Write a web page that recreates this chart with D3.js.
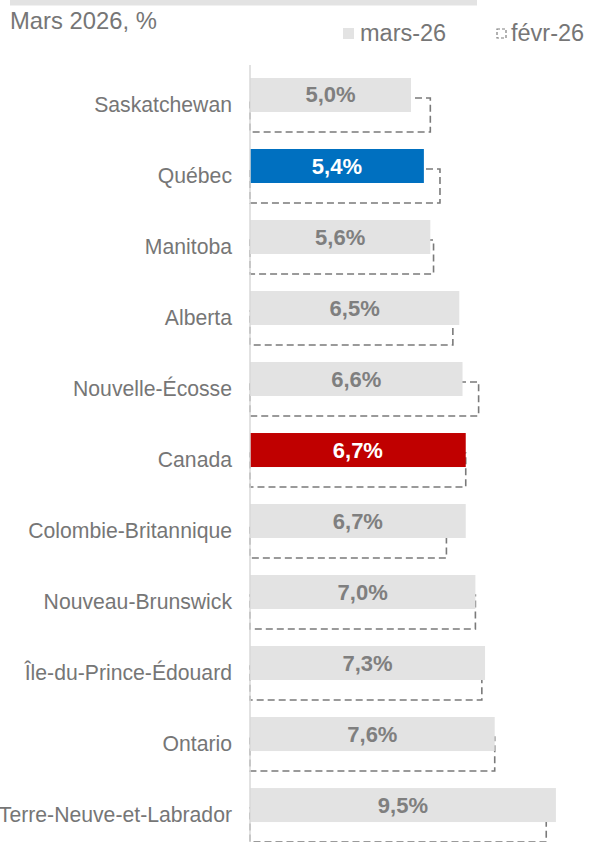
<!DOCTYPE html>
<html>
<head>
<meta charset="utf-8">
<script src="https://cdn.jsdelivr.net/npm/d3@7"></script>
<style>
  body { margin: 0; background: #fff; }
  svg { display: block; font-family: "Liberation Sans", Arial, sans-serif; }
</style>
</head>
<body>
<svg id="chart"></svg>
<script>
const provinces = ["Saskatchewan", "Québec", "Manitoba", "Alberta", "Nouvelle-Écosse", "Canada",
  "Colombie-Britannique", "Nouveau-Brunswick", "Île-du-Prince-Édouard", "Ontario", "Terre-Neuve-et-Labrador"];
const mars26 = [5.0, 5.4, 5.6, 6.5, 6.6, 6.7, 6.7, 7.0, 7.3, 7.6, 9.5];
const fevr26 = [5.6, 5.9, 5.7, 6.3, 7.1, 6.7, 6.1, 7.0, 7.2, 7.6, 9.2];
const seriesNames = ["mars-26", "févr-26"];
const highlight = { "Québec": "#0070c0", "Canada": "#c00000" };
const subtitle = "Mars 2026, %";

const width = 591; // pixels
const height = 842; // pixels

const svg = d3.select("#chart")
  .attr("width", width)
  .attr("height", height);

const rows = provinces.map((p, i) => ({ name: p, mars: mars26[i], fevr: fevr26[i] }));

const x = d3.scaleLinear([0, 10], [250, 572]);
const y = d3.scaleBand(provinces, [78, 842]).paddingInner(0.24).paddingOuter(0);
const barH = y.bandwidth() * 0.63;
const shift = y.bandwidth() - barH;
const fmt = v => d3.format(".1f")(v).replace(".", ",") + "%";

// cut title band at the top
svg.append("rect")
  .attr("x", 10).attr("y", 0)
  .attr("width", 467).attr("height", 5.5)
  .attr("fill", "#e3e3e3");

svg.append("text")
  .attr("x", 10).attr("y", 29)
  .attr("font-size", 23.8)
  .attr("fill", "#767676")
  .text(subtitle);

// legend
const legend = svg.append("g").attr("font-size", 23.5).attr("fill", "#767676");
legend.append("rect")
  .attr("x", 343).attr("y", 28).attr("width", 11).attr("height", 11)
  .attr("fill", "#e3e3e3");
legend.append("text").attr("x", 360).attr("y", 41).text(seriesNames[0]);
legend.append("rect")
  .attr("x", 497).attr("y", 29).attr("width", 9).attr("height", 9)
  .attr("fill", "none")
  .attr("stroke", "#7f7f7f")
  .attr("stroke-width", 1.2)
  .attr("stroke-dasharray", "3,2");
legend.append("text").attr("x", 511).attr("y", 41).text(seriesNames[1]);

// previous month, dashed outlines (drawn under the bars)
svg.append("g")
  .selectAll("rect")
  .data(rows)
  .join("rect")
  .attr("x", x(0))
  .attr("y", d => y(d.name) + shift)
  .attr("width", d => x(d.fevr) - x(0))
  .attr("height", barH)
  .attr("fill", "none")
  .attr("stroke", "#7a7a7a")
  .attr("stroke-width", 1.6)
  .attr("stroke-dasharray", "7,4");

// current month bars
svg.append("g")
  .selectAll("rect")
  .data(rows)
  .join("rect")
  .attr("x", x(0))
  .attr("y", d => y(d.name))
  .attr("width", d => x(d.mars) - x(0))
  .attr("height", barH)
  .attr("fill", d => highlight[d.name] || "#e3e3e3");

// value labels
svg.append("g")
  .attr("font-size", 22)
  .attr("font-weight", "bold")
  .attr("text-anchor", "middle")
  .selectAll("text")
  .data(rows)
  .join("text")
  .attr("x", d => (x(0) + x(d.mars)) / 2)
  .attr("y", d => y(d.name) + barH / 2 + 7.5)
  .attr("fill", d => highlight[d.name] ? "#fff" : "#7f7f7f")
  .text(d => fmt(d.mars));

// vertical axis line + category labels
svg.append("line")
  .attr("x1", x(0)).attr("x2", x(0))
  .attr("y1", 65).attr("y2", height)
  .attr("stroke", "#d9d9d9")
  .attr("stroke-width", 1.5);

svg.append("g")
  .attr("font-size", 21.2)
  .attr("fill", "#767676")
  .attr("text-anchor", "end")
  .selectAll("text")
  .data(provinces)
  .join("text")
  .attr("x", 232)
  .attr("y", d => y(d) + y.bandwidth() / 2 + 7)
  .text(d => d);
</script>
</body>
</html>
